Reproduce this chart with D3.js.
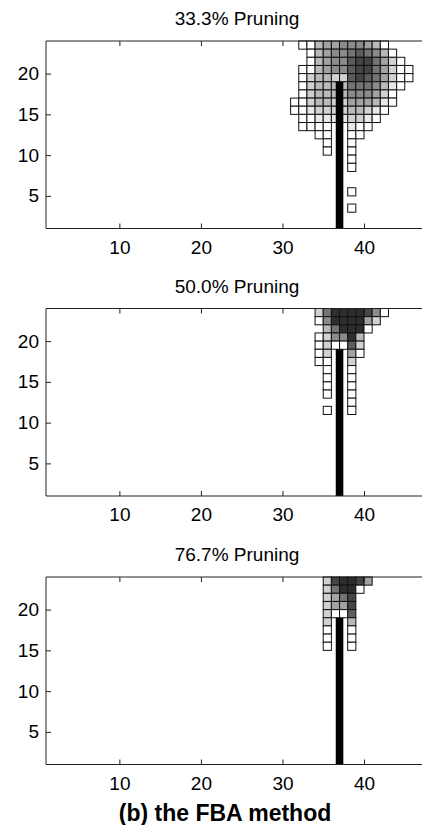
<!DOCTYPE html>
<html>
<head>
<meta charset="utf-8">
<script src="https://cdn.jsdelivr.net/npm/d3@7"></script>
<style>
  body { margin: 0; background: #fff; }
  svg { display: block; font-family: "Liberation Sans", Arial, sans-serif; }
  .axis text { font-size: 19px; fill: #000; }
  .axis line { stroke: #222; }
</style>
</head>
<body>
<svg id="chart" width="422" height="825"></svg>
<script>
var xTicks = [10, 20, 30, 40];
var yTicks = [5, 10, 15, 20];
var titles = ["33.3% Pruning", "50.0% Pruning", "76.7% Pruning"];
var caption = "(b) the FBA method";

// the black stem
var barX = 37;
var barFrom = 1;
var barTo = 19;

// each row: [y, first x, gray levels 0 (white) .. 9 (dark)], null = no cell
var rows333 = [
  [23, 32, [0, 0, 3, 4, 4, 5, 5, 5, 4, 3, 0]],
  [22, 33, [0, 3, 4, 5, 5, 6, 7, 6, 5, 3, 0]],
  [21, 33, [0, 3, 4, 5, 5, 7, 8, 8, 6, 4, 2, 0]],
  [20, 32, [0, 0, 3, 4, 5, 5, 7, 8, 8, 6, 4, 2, 0, 0]],
  [19, 32, [0, 2, 3, 3, 2, 2, 7, 8, 7, 6, 4, 2, 0, 0]],
  [18, 32, [0, 2, 3, 3, 3, 3, 6, 6, 6, 5, 3, 1, 0]],
  [17, 32, [0, 2, 3, 3, 3, 3, 5, 5, 5, 4, 2, 0]],
  [16, 31, [0, 0, 2, 3, 3, 2, 2, 4, 4, 4, 3, 1, 0]],
  [15, 31, [0, 0, 1, 2, 2, 2, 2, 3, 3, 2, 1, 0]],
  [14, 32, [0, 0, 1, 1, 1, 1, 2, 2, 1, 0]],
  [13, 32, [0, 0, 0, 0, null, null, 1, 0, 0]],
  [12, 34, [0, 0, null, null, 0, 0]],
  [11, 35, [0, null, null, 0]],
  [10, 35, [0, null, null, 0]],
  [9, 38, [0]],
  [8, 38, [0]],
  [5, 38, [0]],
  [3, 38, [0]]
];

var rows500 = [
  [23, 34, [2, 6, 9, 9, 9, 9, 8, 5, 0]],
  [22, 34, [0, 5, 9, 9, 9, 9, 4, 2]],
  [21, 35, [3, 6, 9, 9, 9, 0]],
  [20, 34, [0, 2, 5, 5, 9, 3]],
  [19, 34, [0, 2, 0, 0, 7, 2]],
  [18, 34, [0, 2, null, null, 4, 0]],
  [17, 34, [0, 0, null, null, 2]],
  [16, 35, [0, null, null, 0]],
  [15, 35, [0, null, null, 0]],
  [14, 35, [0, null, null, 0]],
  [13, 35, [0, null, null, 0]],
  [12, 38, [0]],
  [11, 35, [0, null, null, 0]]
];

var rows767 = [
  [23, 35, [2, 8, 9, 9, 8, 4]],
  [22, 35, [2, 6, 9, 9, 0]],
  [21, 35, [2, 4, 6, 8]],
  [20, 35, [2, 4, 4, 8]],
  [19, 35, [2, 0, 0, 7]],
  [18, 35, [2, null, null, 3]],
  [17, 35, [0, null, null, 0]],
  [16, 35, [0, null, null, 0]],
  [15, 35, [0, null, null, 0]]
];

var panels = [rows333, rows500, rows767];

// layout
var left = 46;
var panelTop = [41, 308.5, 577];
var panelH = 187.5;

var svg = d3.select("#chart");

var x = d3.scaleLinear().domain([1, 40]).range([left, 364]);
var gray = d3.scaleLinear().domain([0, 9]).range(["#ffffff", "#2e2e2e"]);

var toCells = function(rows) {
  var cells = [];
  rows.forEach(function(r) {
    r[2].forEach(function(v, k) {
      if (v !== null) cells.push({ x: r[1] + k, y: r[0], v: v });
    });
  });
  return cells;
};

panels.forEach(function(rows, p) {
  var top = panelTop[p];
  var bottom = top + panelH;
  var y = d3.scaleLinear().domain([1, 24]).range([bottom, top]);
  var g = svg.append("g");

  g.append("text")
    .attr("x", 237)
    .attr("y", top - 16)
    .attr("text-anchor", "middle")
    .style("font-size", "19px")
    .text(titles[p]);

  g.selectAll("rect.cell")
    .data(toCells(rows))
    .enter().append("rect")
    .attr("class", "cell")
    .attr("x", function(d) { return x(d.x); })
    .attr("y", function(d) { return y(d.y + 1); })
    .attr("width", function(d) { return x(d.x + 1) - x(d.x); })
    .attr("height", function(d) { return y(d.y) - y(d.y + 1); })
    .attr("fill", function(d) { return gray(d.v); })
    .attr("stroke", "#111")
    .attr("stroke-width", 1);

  g.append("rect")
    .attr("x", x(barX - 0.465))
    .attr("y", y(barTo))
    .attr("width", x(barX + 0.465) - x(barX - 0.465))
    .attr("height", y(barFrom) - y(barTo))
    .attr("fill", "#000");

  // axes box, ticks pointing in
  g.append("g")
    .attr("class", "axis")
    .attr("transform", "translate(0," + bottom + ")")
    .call(d3.axisBottom(x).tickValues(xTicks).tickSize(-5).tickPadding(12))
    .call(function(a) { a.select(".domain").remove(); });

  g.append("g")
    .attr("class", "axis")
    .attr("transform", "translate(0," + top + ")")
    .call(d3.axisTop(x).tickValues(xTicks).tickSize(-5).tickFormat(""))
    .call(function(a) { a.select(".domain").remove(); });

  g.append("g")
    .attr("class", "axis")
    .attr("transform", "translate(" + left + ",0)")
    .call(d3.axisLeft(y).tickValues(yTicks).tickSize(-5).tickPadding(7))
    .call(function(a) { a.select(".domain").remove(); });

  g.append("path")
    .attr("d", "M440," + top + "H" + left + "V" + bottom + "H440")
    .attr("fill", "none")
    .attr("stroke", "#222")
    .attr("stroke-width", 1);
});

svg.append("text")
  .attr("x", 225)
  .attr("y", 821)
  .attr("text-anchor", "middle")
  .style("font-size", "23px")
  .style("font-weight", "bold")
  .text(caption);
</script>
</body>
</html>
